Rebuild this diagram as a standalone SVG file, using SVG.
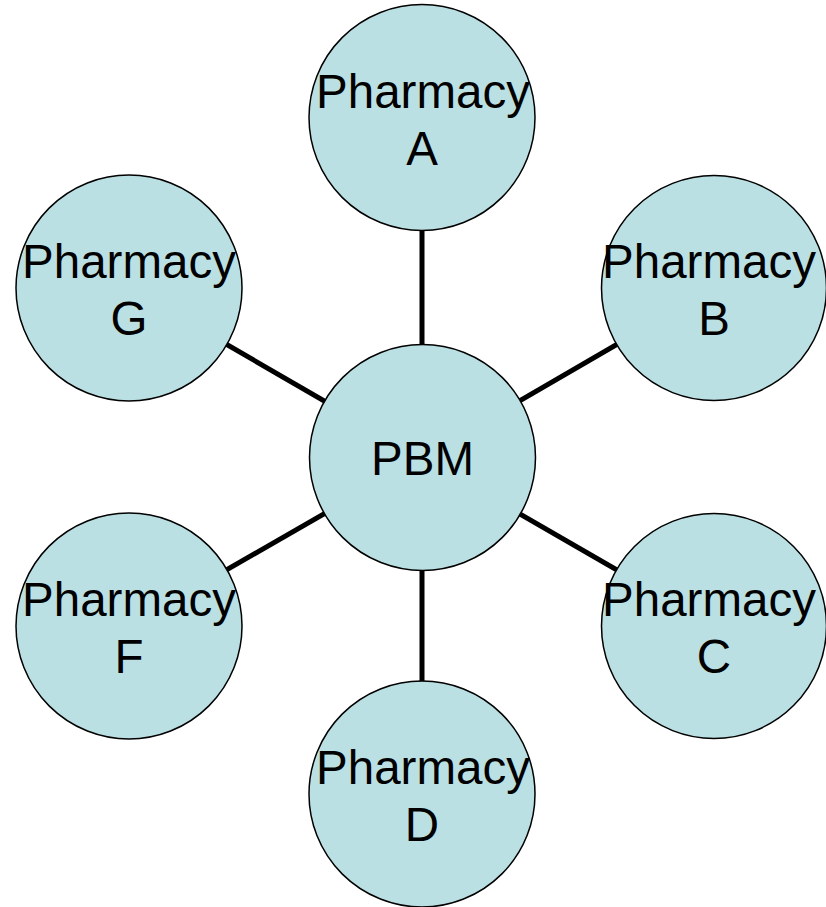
<svg xmlns="http://www.w3.org/2000/svg" width="826" height="907" viewBox="0 0 826 907">
<style>
.node{fill:#BBE0E3;stroke:#000;stroke-width:1.5}
.lbl{font-family:"Liberation Sans",Arial,sans-serif;font-size:47.5px;fill:#000;text-anchor:middle}
.edge{stroke:#000;stroke-width:5;fill:none}
</style>
<rect width="826" height="907" fill="#fff"/>
<g id="connectors">
<line class="edge" x1="422" y1="457.5" x2="422" y2="117.5"/>
<line class="edge" x1="422" y1="457.5" x2="714" y2="288"/>
<line class="edge" x1="422" y1="457.5" x2="714" y2="626"/>
<line class="edge" x1="422" y1="457.5" x2="422" y2="794"/>
<line class="edge" x1="422" y1="457.5" x2="129" y2="626"/>
<line class="edge" x1="422" y1="457.5" x2="129" y2="288"/>
</g>
<g id="pbm"><circle class="node" cx="422.5" cy="457.5" r="113"/><text class="lbl" x="422.5" y="475">PBM</text></g>
<g id="pharmacy-a"><circle class="node" cx="422" cy="117.5" r="113"/><text class="lbl" x="423" y="108">Pharmacy</text><text class="lbl" x="422" y="165">A</text></g>
<g id="pharmacy-b"><circle class="node" cx="714" cy="288" r="112.5"/><text class="lbl" x="709" y="278">Pharmacy</text><text class="lbl" x="714" y="335">B</text></g>
<g id="pharmacy-c"><circle class="node" cx="714" cy="626" r="112.5"/><text class="lbl" x="709" y="616">Pharmacy</text><text class="lbl" x="714" y="673">C</text></g>
<g id="pharmacy-d"><circle class="node" cx="422" cy="794" r="113"/><text class="lbl" x="423" y="784">Pharmacy</text><text class="lbl" x="422" y="841">D</text></g>
<g id="pharmacy-f"><circle class="node" cx="129" cy="626" r="113"/><text class="lbl" x="129" y="616">Pharmacy</text><text class="lbl" x="129" y="673">F</text></g>
<g id="pharmacy-g"><circle class="node" cx="129" cy="288" r="113"/><text class="lbl" x="129" y="278">Pharmacy</text><text class="lbl" x="129" y="335">G</text></g>
</svg>
